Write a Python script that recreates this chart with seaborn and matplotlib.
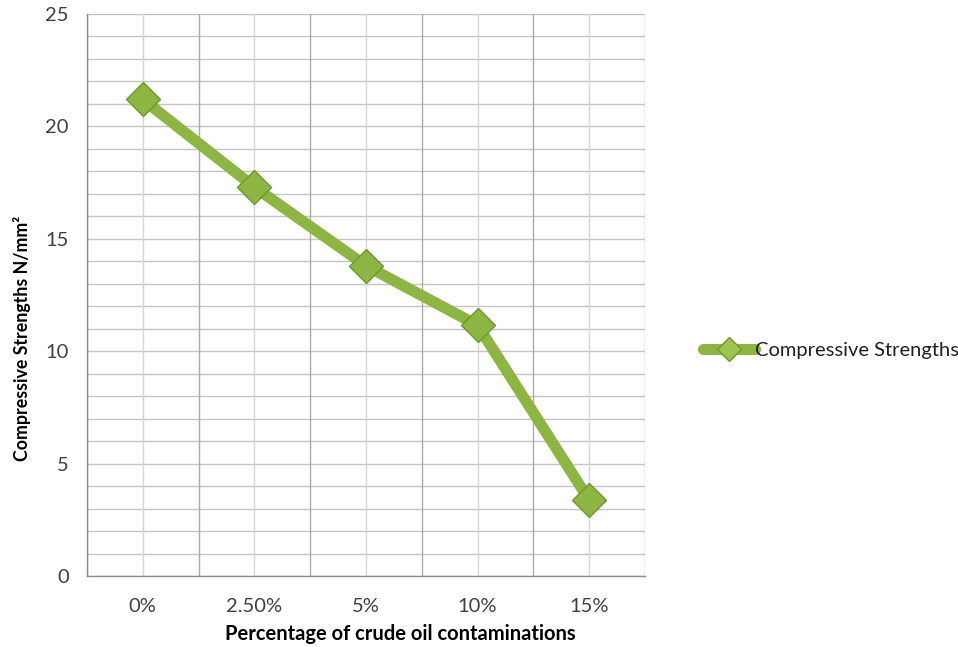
import matplotlib
matplotlib.use("Agg")
import matplotlib.pyplot as plt
import seaborn as sns
import pandas as pd
from matplotlib.lines import Line2D

categories = ["0%", "2.50%", "5%", "10%", "15%"]
strengths = [21.2, 17.3, 13.8, 11.15, 3.38]
series_name = "Compressive Strengths"
x_label = "Percentage of crude oil contaminations"
y_label = "Compressive Strengths N/mm²"

sns.set_style("white")
plt.rcParams["font.family"] = ["Lato", "DejaVu Sans"]

df = pd.DataFrame({"cat": categories, "val": strengths})

fig = plt.figure(figsize=(9.58, 6.47), dpi=100)
ax = fig.add_axes([87/958, 1 - 576/647, (645-87)/958, (576-14)/647])

green = "#8db543"
edge = "#6a9a2c"

# grid
for y in range(0, 26):
    ax.axhline(y, color="#c4c4c4", lw=1.0, zorder=0)
n = len(categories)
for i in range(n):
    ax.axvline(i, color="#d6d6d6", lw=1.0, zorder=0)
for i in range(n + 1):
    ax.axvline(i - 0.5, color="#ababab", lw=1.0, zorder=0)

sns.pointplot(data=df, x="cat", y="val", ax=ax, color=green, markers="D",
              markersize=17, linewidth=8, errorbar=None,
              markeredgecolor=edge, markeredgewidth=1.0)
for coll in ax.collections:
    coll.set_facecolor("#9cc44e")

ax.set_xlim(-0.5, n - 0.5)
ax.set_ylim(0, 25)
ax.set_yticks(range(0, 26, 5))
ax.set_xticks(range(n))
ax.set_xticklabels(categories)
ax.set_xticks([i - 0.5 for i in range(n + 1)], minor=True)
ax.tick_params(axis="x", which="major", length=0, pad=16, labelsize=14.5, colors="#404040")
ax.tick_params(axis="x", which="minor", length=6, width=1, color="#8c8c8c", direction="out")
ax.tick_params(axis="y", which="major", length=6, width=1, color="#8c8c8c", direction="out",
               labelsize=14.5, labelcolor="#404040", pad=7)

for s in ["top", "right"]:
    ax.spines[s].set_visible(False)
for s in ["left", "bottom"]:
    ax.spines[s].set_color("#8c8c8c")
    ax.spines[s].set_linewidth(1.0)

ax.set_xlabel(x_label, fontsize=14.5, fontweight="bold", color="black")
ax.xaxis.set_label_coords((400 - 87) / 558, -(634 - 576) / 562)
ax.xaxis.label.set_va("center")
ax.set_ylabel(y_label, fontsize=12.8, fontweight="bold", color="black")
ax.yaxis.set_label_coords(-(87 - 22) / 558, (576 - 338) / 562)
ax.yaxis.label.set_va("center")

handle = Line2D([0], [0], color=green, lw=8, marker="D", markersize=12,
                markerfacecolor="#9cc44e", markeredgecolor=edge)
fig.legend(handles=[handle], labels=[series_name], loc="center left",
           bbox_to_anchor=(685/958, 1 - 350/647), frameon=False,
           fontsize=14.5, handlelength=2.6, handletextpad=0.0, labelcolor="#202020")

fig.savefig("out.png", dpi=100)
